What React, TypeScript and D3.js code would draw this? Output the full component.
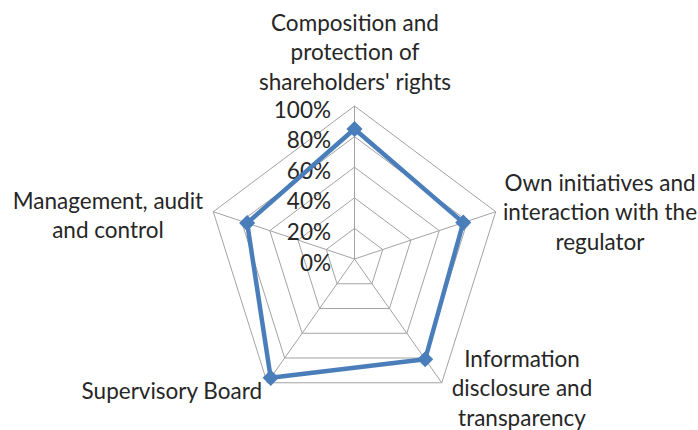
import React from "react";
import * as d3 from "d3";

const categories: string[][] = [
  ["Composition and", "protection of", "shareholders' rights"],
  ["Own initiatives and", "interaction with the", "regulator"],
  ["Information", "disclosure and", "transparency"],
  ["Supervisory Board"],
  ["Management, audit", "and control"],
];
const values: number[] = [0.85, 0.77, 0.81, 0.96, 0.76];
const tickValues: number[] = [0, 0.2, 0.4, 0.6, 0.8, 1.0];
const tickLabels: string[] = ["0%", "20%", "40%", "60%", "80%", "100%"];

const W = 698;
const H = 430;
const cx = 354.5;
const cy = 259;
const FONT = "Lato, 'Open Sans', sans-serif";
const FS = 22.5;
const LH = 29.5;
const TEXT = "#262626";
const GRID = "#A3A3A3";
const BLUE = "#4A7EBB";

// label anchors: [x, y of first line center, anchor]
const labelPos: [number, number, string][] = [
  [355, 22, "middle"],
  [600, 182, "middle"],
  [522, 358, "middle"],
  [262, 390, "end"],
  [108, 200, "middle"],
];

export default function App() {
  const n = categories.length;
  const rx = d3.scaleLinear().domain([0, 1]).range([0, 148.5]);
  const ry = d3.scaleLinear().domain([0, 1]).range([0, 153]);
  const angle = d3
    .scaleLinear()
    .domain([0, n])
    .range([0, 2 * Math.PI]);
  const pt = (i: number, v: number): [number, number] => [
    cx + rx(v) * Math.sin(angle(i)),
    cy - ry(v) * Math.cos(angle(i)),
  ];
  const line = d3.line<[number, number]>().curve(d3.curveLinearClosed);
  const idx = d3.range(n);
  const seriesPts = values.map((v, i) => pt(i, v));
  const diamond = d3.symbol().type(d3.symbolSquare).size(130)();

  return (
    <svg
      width={W}
      height={H}
      style={{ position: "absolute", left: 0, top: 0, background: "#fff" }}
      fontFamily={FONT}
    >
      <g>
        {tickValues.slice(1).map((t) => (
          <path
            key={"r" + t}
            d={line(idx.map((i) => pt(i, t))) || ""}
            fill="none"
            stroke={GRID}
            strokeWidth={1}
          />
        ))}
        {idx.map((i) => {
          const [x, y] = pt(i, 1);
          return (
            <line key={"s" + i} x1={cx} y1={cy} x2={x} y2={y} stroke={GRID} strokeWidth={1} />
          );
        })}
      </g>
      <g>
        {tickValues.map((t, k) => (
          <text
            key={"t" + t}
            x={331}
            y={cy - ry(t) + 3}
            textAnchor="end"
            dominantBaseline="central"
            fontSize={FS}
            fill={TEXT}
          >
            {tickLabels[k]}
          </text>
        ))}
      </g>
      <path
        d={line(seriesPts) || ""}
        fill="none"
        stroke={BLUE}
        strokeWidth={4.5}
        strokeLinejoin="round"
      />
      {seriesPts.map(([x, y], i) => (
        <path key={"m" + i} d={diamond || ""} transform={`translate(${x},${y}) rotate(45)`} fill={BLUE} />
      ))}
      <g>
        {categories.map((lines, i) => {
          const [x, y, anchor] = labelPos[i];
          return (
            <text key={"c" + i} textAnchor={anchor as any} fontSize={FS} fill={TEXT}>
              {lines.map((l, j) => (
                <tspan key={j} x={x} y={y + j * LH} dominantBaseline="central">
                  {l}
                </tspan>
              ))}
            </text>
          );
        })}
      </g>
    </svg>
  );
}
